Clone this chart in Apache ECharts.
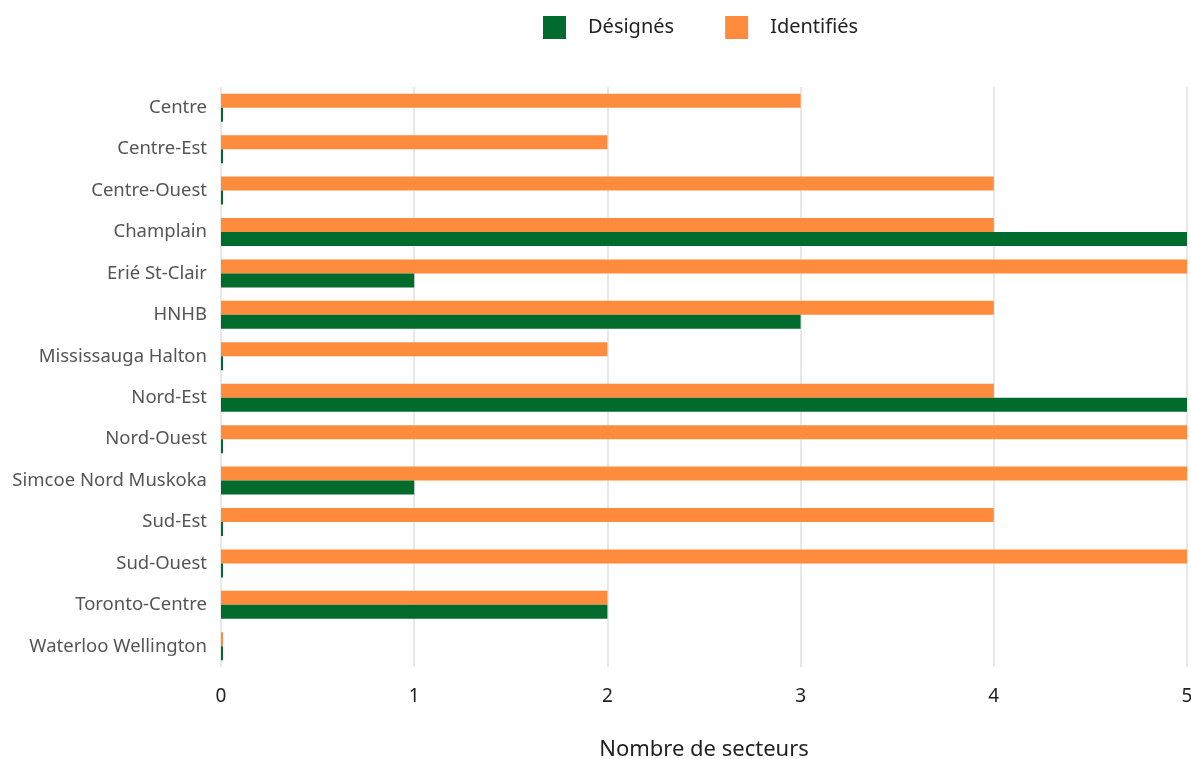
<!DOCTYPE html>
<html>
<head>
<meta charset="utf-8">
<script src="https://cdn.jsdelivr.net/npm/echarts@6/dist/echarts.min.js"></script>
<style>
  html, body { margin: 0; padding: 0; background: #ffffff; }
  #chart { width: 1191px; height: 759px; }
</style>
</head>
<body>
<div id="chart"></div>
<script>
// Regions (top to bottom)
const regions = [
  'Centre', 'Centre-Est', 'Centre-Ouest', 'Champlain', 'Erié St-Clair', 'HNHB',
  'Mississauga Halton', 'Nord-Est', 'Nord-Ouest', 'Simcoe Nord Muskoka',
  'Sud-Est', 'Sud-Ouest', 'Toronto-Centre', 'Waterloo Wellington'
];
// Number of designated sectors per region
const designes = [0, 0, 0, 5, 1, 3, 0, 5, 0, 1, 0, 0, 2, 0];
// Number of identified sectors per region
const identifies = [3, 2, 4, 4, 5, 4, 2, 4, 5, 5, 4, 5, 2, 0];
const xTicks = [0, 1, 2, 3, 4, 5];

const FONT = '"Noto Sans", "DejaVu Sans", sans-serif';
const chart = echarts.init(document.getElementById('chart'), null, { renderer: 'canvas' });

chart.setOption({
  animation: false,
  textStyle: { fontFamily: FONT },
  legend: {
    top: 11,
    left: 538,
    data: ['Désignés', 'Identifiés'],
    itemWidth: 23,
    itemHeight: 23,
    itemGap: 51,
    icon: 'rect',
    textStyle: { fontSize: 20, color: '#222', padding: [0, 0, 0, 17], fontFamily: FONT }
  },
  grid: {
    left: 221, right: 4, top: 87, bottom: 92,
    containLabel: false,
    outerBoundsMode: 'none'
  },
  xAxis: {
    type: 'value',
    min: xTicks[0],
    max: xTicks[xTicks.length - 1],
    interval: 1,
    name: 'Nombre de secteurs',
    nameLocation: 'middle',
    nameGap: 72,
    nameTextStyle: { fontSize: 22, color: '#222', fontFamily: FONT },
    axisLine: { show: false },
    axisTick: { show: false },
    axisLabel: { fontSize: 19, color: '#222', margin: 20, fontFamily: FONT },
    splitLine: { show: true, lineStyle: { color: '#e8e8e8', width: 2 } }
  },
  yAxis: {
    type: 'category',
    data: regions,
    inverse: true,
    axisLine: { show: false },
    axisTick: { show: false },
    axisLabel: { fontSize: 18.5, color: '#555', margin: 14, fontFamily: FONT }
  },
  series: [
    {
      name: 'Identifiés',
      type: 'bar',
      data: identifies,
      barWidth: 14,
      barGap: '0%',
      barMinHeight: 2,
      itemStyle: { color: '#ff8c3d' }
    },
    {
      name: 'Désignés',
      type: 'bar',
      data: designes,
      barWidth: 14,
      barGap: '0%',
      barMinHeight: 2,
      itemStyle: { color: '#006b2d' }
    }
  ]
});
</script>
</body>
</html>
